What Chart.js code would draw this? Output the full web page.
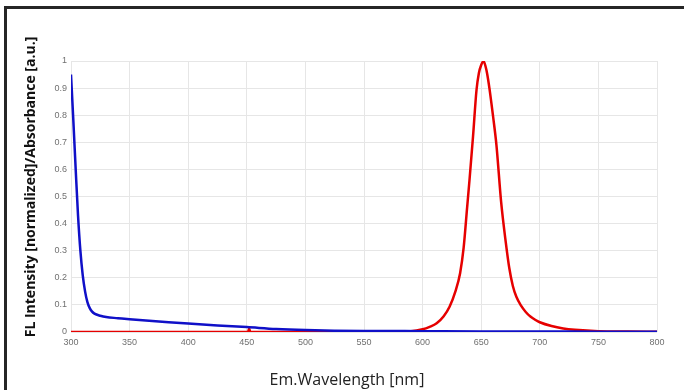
<!DOCTYPE html>
<html>
<head>
<meta charset="utf-8">
<script src="https://cdn.jsdelivr.net/npm/chart.js@4"></script>
<style>
  html, body { margin: 0; padding: 0; background: #fff; }
  #wrap { position: relative; width: 684px; height: 390px; overflow: hidden; }
  #frame { position: absolute; left: 4px; top: 6px; width: 720px; height: 420px;
           border-top: 3px solid #262626; border-left: 3px solid #262626; }
  canvas { position: absolute; left: 0; top: 0; }
</style>
</head>
<body>
<div id="wrap">
  <div id="frame"></div>
  <canvas id="grafico" width="684" height="390"></canvas>
</div>
<script>
// absorbance (blue)
const absWl  = [300, 302, 304, 306, 308, 310, 312, 314, 316, 318, 320, 325, 330, 340, 350, 375, 400, 425, 450, 475, 500, 525, 550, 600, 650, 700, 750, 800];
const absVal = [0.95, 0.78, 0.6, 0.43, 0.3, 0.21, 0.15, 0.11, 0.088, 0.075, 0.068, 0.06, 0.055, 0.051, 0.047, 0.039, 0.031, 0.024, 0.018, 0.011, 0.007, 0.005, 0.004, 0.003, 0.002, 0.002, 0.001, 0.001];

// fluorescence (red)
const flWl  = [300, 450, 451, 452, 453, 460, 550, 590, 600, 606, 612, 618, 623, 628, 632, 635, 638, 640, 643, 646, 648, 650, 652, 654, 655, 657, 660, 663, 667, 671, 674, 677, 680, 684, 688, 692, 696, 700, 710, 720, 730, 750, 775, 800];
const flVal = [0, 0, 0, 0.013, 0, 0, 0, 0.003, 0.01, 0.019, 0.032, 0.058, 0.093, 0.15, 0.217, 0.31, 0.46, 0.56, 0.72, 0.893, 0.955, 0.985, 1.0, 0.975, 0.955, 0.9, 0.8, 0.69, 0.48, 0.33, 0.235, 0.17, 0.13, 0.097, 0.074, 0.057, 0.045, 0.036, 0.022, 0.013, 0.008, 0.003, 0.002, 0.001];

const xTicks = [300, 350, 400, 450, 500, 550, 600, 650, 700, 750, 800];
const yTickLabels = ['0', '0.1', '0.2', '0.3', '0.4', '0.5', '0.6', '0.7', '0.8', '0.9', '1'];

const tituloX = 'Em.Wavelength [nm]';
const tituloY = 'FL Intensity [normalized]/Absorbance [a.u.]';

function pontos(xs, ys) {
    return xs.map((x, i) => ({ x: x, y: ys[i] }));
}

// titles drawn at the positions used in the original picture
const titulos = {
    id: 'titulos',
    afterDraw(chart) {
        const ctx = chart.ctx;
        ctx.save();
        ctx.fillStyle = '#222';
        ctx.textAlign = 'center';
        ctx.textBaseline = 'middle';
        ctx.font = '16px "Open Sans"';
        ctx.fillText(tituloX, 347, 380);
        ctx.translate(31, 187);
        ctx.rotate(-Math.PI / 2);
        ctx.font = 'bold 14px "Open Sans"';
        ctx.fillStyle = '#111';
        ctx.fillText(tituloY, 0, 0);
        ctx.restore();
    }
};

const fonteTicks = { family: '"Liberation Sans", Arial, sans-serif', size: 9 };

new Chart(document.getElementById('grafico'), {
    type: 'line',
    data: {
        datasets: [{
            label: 'Absorbance',
            data: pontos(absWl, absVal),
            borderColor: '#1010c8',
            borderWidth: 2.5,
            pointRadius: 0,
            cubicInterpolationMode: 'monotone'
        }, {
            label: 'FL Intensity',
            data: pontos(flWl, flVal),
            borderColor: '#e60000',
            borderWidth: 2.5,
            pointRadius: 0,
            cubicInterpolationMode: 'monotone'
        }]
    },
    options: {
        responsive: false,
        animation: false,
        layout: { padding: { top: 61, right: 27, bottom: 0, left: 0 } },
        plugins: {
            legend: { display: false },
            tooltip: { enabled: false }
        },
        scales: {
            x: {
                type: 'linear',
                min: 300,
                max: 800,
                afterBuildTicks: (axis) => { axis.ticks = xTicks.map(v => ({ value: v })); },
                afterFit: (axis) => { axis.height = 58; },
                grid: { color: '#e6e6e6', drawTicks: false },
                border: { display: false },
                ticks: {
                    color: '#707070',
                    font: fonteTicks,
                    padding: 5,
                    maxRotation: 0,
                    autoSkip: false
                }
            },
            y: {
                min: 0,
                max: 1,
                afterBuildTicks: (axis) => { axis.ticks = yTickLabels.map((t, i) => ({ value: i / 10 })); },
                afterFit: (axis) => { axis.width = 71; },
                grid: { color: '#e6e6e6', drawTicks: false },
                border: { display: false },
                ticks: {
                    color: '#707070',
                    font: fonteTicks,
                    padding: 4,
                    callback: (v, i) => yTickLabels[i]
                }
            }
        }
    },
    plugins: [titulos]
});
</script>
</body>
</html>
